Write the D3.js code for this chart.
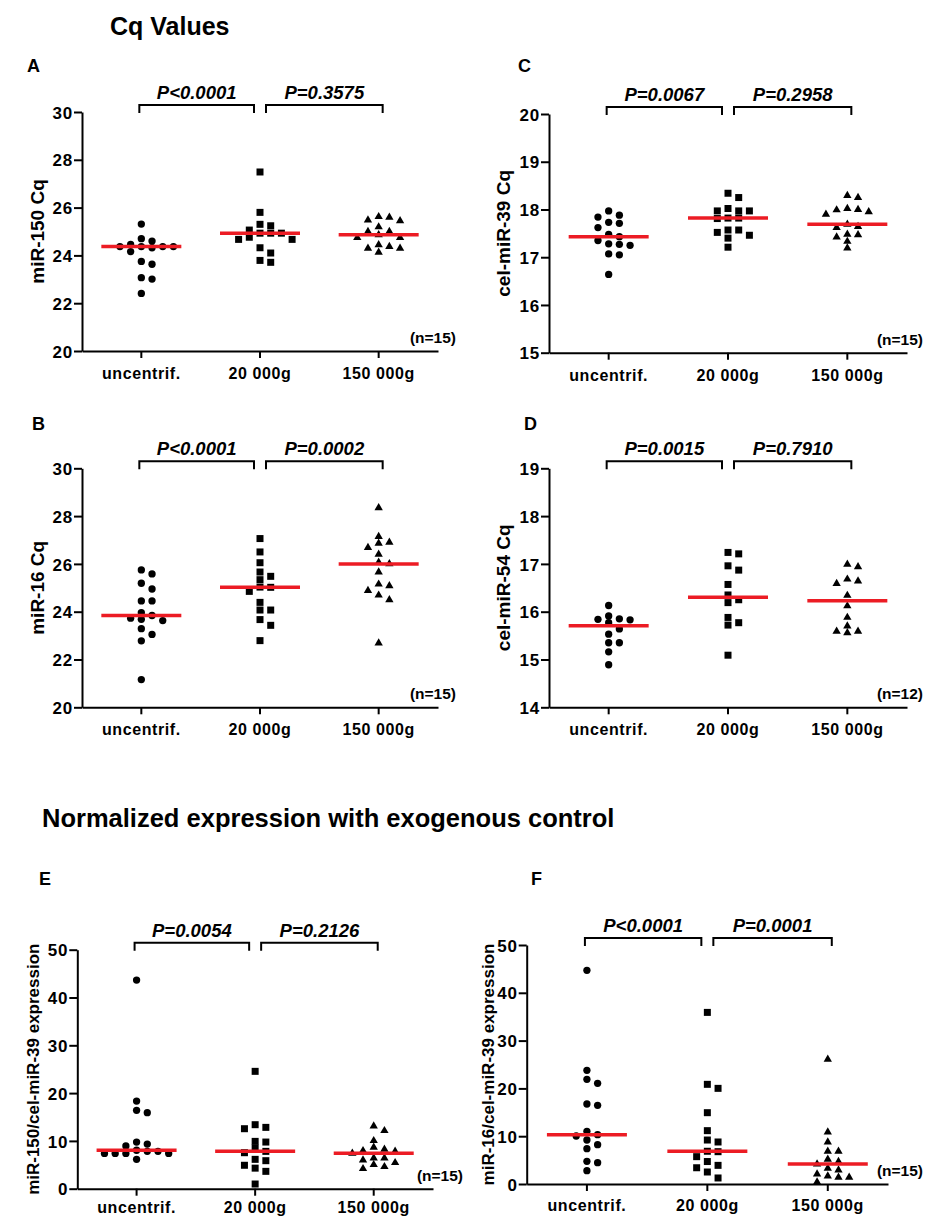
<!DOCTYPE html>
<html>
<head>
<meta charset="utf-8">
<script src="https://cdn.jsdelivr.net/npm/d3@7"></script>
<style>
  body { margin: 0; background: #fff; }
  text { font-family: "Liberation Sans", Arial, sans-serif; font-weight: bold; fill: #000; }
</style>
</head>
<body>
<div id="chart"></div>
<script>
var svgWidth = 925;
var svgHeight = 1217;

var categories = ["uncentrif.", "20 000g", "150 000g"];

// A: miR-150 Cq
var miR150Uncentrif = [25.31, 24.70, 24.60, 24.46, 24.37, 24.37, 24.37, 24.37, 24.32, 24.16, 23.75, 23.63, 23.07, 23.01, 22.41];
var miR150G20k = [27.49, 25.80, 25.30, 25.24, 25.06, 24.93, 24.93, 24.93, 24.76, 24.67, 24.67, 24.32, 24.10, 23.79, 23.71];
var miR150G150k = [25.62, 25.59, 25.48, 25.45, 25.19, 25.00, 25.00, 24.86, 24.74, 24.74, 24.44, 24.37, 24.30, 24.30, 24.13];
var pValuesA = ["P<0.0001", "P=0.3575"];

// B: miR-16 Cq
var miR16Uncentrif = [25.75, 25.58, 25.19, 24.95, 24.45, 24.45, 23.96, 23.84, 23.73, 23.68, 23.63, 23.29, 23.05, 22.78, 21.16];
var miR16G20k = [27.06, 26.50, 26.05, 25.66, 25.48, 25.34, 25.03, 25.02, 24.85, 24.39, 24.07, 24.07, 23.67, 23.43, 22.79];
var miR16G150k = [28.35, 27.14, 26.90, 26.86, 26.68, 26.40, 26.07, 26.00, 25.66, 25.15, 25.08, 24.88, 24.69, 24.50, 22.69];
var pValuesB = ["P<0.0001", "P=0.0002"];

// C: cel-miR-39 Cq
var cel39Uncentrif = [17.97, 17.88, 17.84, 17.73, 17.71, 17.62, 17.48, 17.43, 17.35, 17.28, 17.27, 17.25, 17.07, 17.05, 16.64];
var cel39G20k = [18.34, 18.25, 18.02, 17.97, 17.97, 17.97, 17.82, 17.82, 17.81, 17.57, 17.57, 17.52, 17.46, 17.40, 17.21];
var cel39G150k = [18.29, 18.25, 18.02, 18.00, 17.99, 17.95, 17.90, 17.69, 17.64, 17.62, 17.48, 17.47, 17.42, 17.33, 17.19];
var pValuesC = ["P=0.0067", "P=0.2958"];

// D: cel-miR-54 Cq
var cel54Uncentrif = [16.13, 15.91, 15.85, 15.84, 15.83, 15.77, 15.64, 15.53, 15.35, 15.35, 15.16, 14.89];
var cel54G20k = [17.24, 17.21, 16.96, 16.87, 16.57, 16.35, 16.25, 16.19, 15.88, 15.77, 15.72, 15.09];
var cel54G150k = [16.99, 16.94, 16.68, 16.64, 16.59, 16.34, 16.12, 15.88, 15.70, 15.59, 15.59, 15.56];
var pValuesD = ["P=0.0015", "P=0.7910"];

// E: miR-150 / cel-miR-39
var ratio150Uncentrif = [43.65, 18.34, 16.39, 15.90, 9.76, 9.34, 8.93, 8.05, 7.81, 7.81, 7.39, 7.39, 7.39, 7.39, 6.14];
var ratio150G20k = [24.55, 13.39, 12.83, 12.55, 9.90, 9.76, 8.51, 7.81, 7.53, 6.14, 5.86, 4.90, 4.30, 3.63, 0.98];
var ratio150G150k = [13.10, 12.13, 10.04, 8.65, 8.23, 7.95, 7.81, 7.40, 6.42, 6.42, 6.00, 5.44, 5.02, 4.60, 4.18];
var pValuesE = ["P=0.0054", "P=0.2126"];

// F: miR-16 / cel-miR-39
var ratio16Uncentrif = [44.70, 23.78, 21.90, 21.06, 16.74, 16.46, 11.02, 10.32, 10.04, 9.20, 8.23, 7.39, 4.74, 4.46, 2.79];
var ratio16G20k = [35.90, 20.85, 20.01, 14.92, 11.16, 9.20, 8.79, 6.85, 6.76, 5.72, 4.70, 3.90, 3.40, 2.51, 1.26];
var ratio16G150k = [26.08, 10.88, 8.79, 6.83, 6.83, 5.16, 4.67, 4.18, 3.28, 2.93, 2.09, 1.67, 1.39, 1.39, 0.42];
var pValuesF = ["P<0.0001", "P=0.0001"];

var ticksMiR = [20, 22, 24, 26, 28, 30];
var ticksCel39 = [15, 16, 17, 18, 19, 20];
var ticksCel54 = [14, 15, 16, 17, 18, 19];
var ticksRatio = [0, 10, 20, 30, 40, 50];

var symbols = [d3.symbolCircle, d3.symbolSquare, d3.symbolTriangle];
var symbolSizes = [42, 49, 30];

var panels = [
  {letter: "A", title: "miR-150 Cq", groups: [miR150Uncentrif, miR150G20k, miR150G150k], pvals: pValuesA, n: "(n=15)", ticks: ticksMiR,
   x0: 82, x1: 438, yTop: 112, yBot: 351, letterX: 27, letterY: 72, titleX: 37, titleSize: 19, nRight: 456, labelDy: 28},
  {letter: "C", title: "cel-miR-39 Cq", groups: [cel39Uncentrif, cel39G20k, cel39G150k], pvals: pValuesC, n: "(n=15)", ticks: ticksCel39,
   x0: 549, x1: 907, yTop: 114, yBot: 352.7, letterX: 518, letterY: 72, titleX: 503, titleSize: 19, nRight: 923, labelDy: 28},
  {letter: "B", title: "miR-16 Cq", groups: [miR16Uncentrif, miR16G20k, miR16G150k], pvals: pValuesB, n: "(n=15)", ticks: ticksMiR,
   x0: 82, x1: 438, yTop: 468.3, yBot: 707.3, letterX: 32, letterY: 430, titleX: 37, titleSize: 19, nRight: 456, labelDy: 28},
  {letter: "D", title: "cel-miR-54 Cq", groups: [cel54Uncentrif, cel54G20k, cel54G150k], pvals: pValuesD, n: "(n=12)", ticks: ticksCel54,
   x0: 549, x1: 907, yTop: 468.3, yBot: 707.3, letterX: 524, letterY: 430, titleX: 503, titleSize: 19, nRight: 923, labelDy: 28},
  {letter: "E", title: "miR-150/cel-miR-39 expression", groups: [ratio150Uncentrif, ratio150G20k, ratio150G150k], pvals: pValuesE, n: "(n=15)", ticks: ticksRatio,
   x0: 77.3, x1: 433, yTop: 949.7, yBot: 1188.7, letterX: 39, letterY: 885, titleX: 33, titleSize: 17, nRight: 463, labelDy: 24},
  {letter: "F", title: "miR-16/cel-miR-39 expression", groups: [ratio16Uncentrif, ratio16G20k, ratio16G150k], pvals: pValuesF, n: "(n=15)", ticks: ticksRatio,
   x0: 526.7, x1: 888, yTop: 945, yBot: 1184, letterX: 531, letterY: 885, titleX: 488, titleSize: 17, nRight: 923, labelDy: 27}
];

var svg = d3.select("#chart")
  .append("svg")
  .attr("width", svgWidth)
  .attr("height", svgHeight);

svg.append("text")
  .attr("x", 110)
  .attr("y", 35)
  .style("font-size", "25px")
  .text("Cq Values");

svg.append("text")
  .attr("x", 42)
  .attr("y", 827)
  .style("font-size", "25.5px")
  .text("Normalized expression with exogenous control");

// horizontal spread of points, like a column scatter
function spread(values, yScale, step, minGap) {
  var placed = [];
  var offsets = new Array(values.length);
  var order = values.map((v, i) => i).sort((a, b) => values[b] - values[a]);
  order.forEach(function(i) {
    var py = yScale(values[i]);
    for (var k = 0; k < 40; k++) {
      var off = k === 0 ? 0 : (k % 2 ? Math.ceil(k / 2) : -k / 2) * step;
      var hit = placed.some(p => Math.abs(p.x - off) < step - 0.5 && Math.abs(p.y - py) < minGap);
      if (!hit) {
        placed.push({x: off, y: py});
        offsets[i] = off;
        break;
      }
    }
  });
  return offsets;
}

panels.forEach(function(p) {
  var g = svg.append("g");

  var x = d3.scaleBand()
    .domain(categories)
    .range([p.x0, p.x1]);

  var y = d3.scaleLinear()
    .domain([d3.min(p.ticks), d3.max(p.ticks)])
    .range([p.yBot, p.yTop]);

  // y axis
  var yAxis = g.append("g")
    .attr("transform", `translate(${p.x0}, 0)`)
    .call(d3.axisLeft(y).tickValues(p.ticks).tickFormat(d3.format("d"))
      .tickSize(8).tickSizeOuter(0).tickPadding(1));
  yAxis.select(".domain").attr("stroke-width", 2);
  yAxis.selectAll(".tick line").attr("stroke-width", 2);
  yAxis.selectAll(".tick text")
    .attr("font-family", null)
    .attr("font-size", null)
    .style("font-size", "17px")
    .style("letter-spacing", "0.8px")
    .attr("dy", "0.36em");

  // x axis
  var xAxis = g.append("g")
    .attr("transform", `translate(0, ${p.yBot})`)
    .call(d3.axisBottom(x).tickSize(7).tickSizeOuter(0));
  xAxis.select(".domain").attr("stroke-width", 2);
  xAxis.selectAll(".tick line").attr("stroke-width", 2);
  xAxis.selectAll(".tick text")
    .attr("font-family", null)
    .attr("font-size", null)
    .style("font-size", "16px")
    .style("letter-spacing", "0.6px")
    .attr("y", p.labelDy)
    .attr("dy", 0);

  // points + median lines
  p.groups.forEach(function(vals, gi) {
    var cx = x(categories[gi]) + x.bandwidth() / 2;
    var offs = spread(vals, y, 10.7, 6.5);
    var sym = d3.symbol().type(symbols[gi]).size(symbolSizes[gi]);

    g.selectAll(null)
      .data(vals)
      .enter()
      .append("path")
      .attr("d", sym)
      .attr("fill", "#000")
      .attr("transform", (d, i) => `translate(${cx + offs[i]}, ${y(d)})`);

    var med = d3.median(vals);
    g.append("line")
      .attr("x1", cx - 40)
      .attr("x2", cx + 40)
      .attr("y1", y(med))
      .attr("y2", y(med))
      .attr("stroke", "#ec1c24")
      .attr("stroke-width", 3.5);
  });

  // significance brackets
  var c = categories.map(k => x(k) + x.bandwidth() / 2);
  var spans = [[c[0] - 2, c[1] - 6], [c[1] + 6, c[2] + 4]];
  spans.forEach(function(s, si) {
    g.append("path")
      .attr("d", `M${s[0]},${p.yTop + 1}V${p.yTop - 7}H${s[1]}V${p.yTop + 1}`)
      .attr("fill", "none")
      .attr("stroke", "#000")
      .attr("stroke-width", 2);
    g.append("text")
      .attr("x", (s[0] + s[1]) / 2)
      .attr("y", p.yTop - 13)
      .attr("text-anchor", "middle")
      .style("font-size", "18.5px")
      .style("font-style", "italic")
      .text(p.pvals[si]);
  });

  // n label
  g.append("text")
    .attr("x", p.nRight)
    .attr("y", p.yBot - 8)
    .attr("text-anchor", "end")
    .style("font-size", "15.5px")
    .text(p.n);

  // panel letter
  g.append("text")
    .attr("x", p.letterX)
    .attr("y", p.letterY)
    .style("font-size", "18px")
    .text(p.letter);

  // y title
  g.append("text")
    .attr("transform", `translate(${p.titleX + p.titleSize * 0.36}, ${(p.yTop + p.yBot) / 2}) rotate(-90)`)
    .attr("text-anchor", "middle")
    .style("font-size", p.titleSize + "px")
    .text(p.title);
});
</script>
</body>
</html>
